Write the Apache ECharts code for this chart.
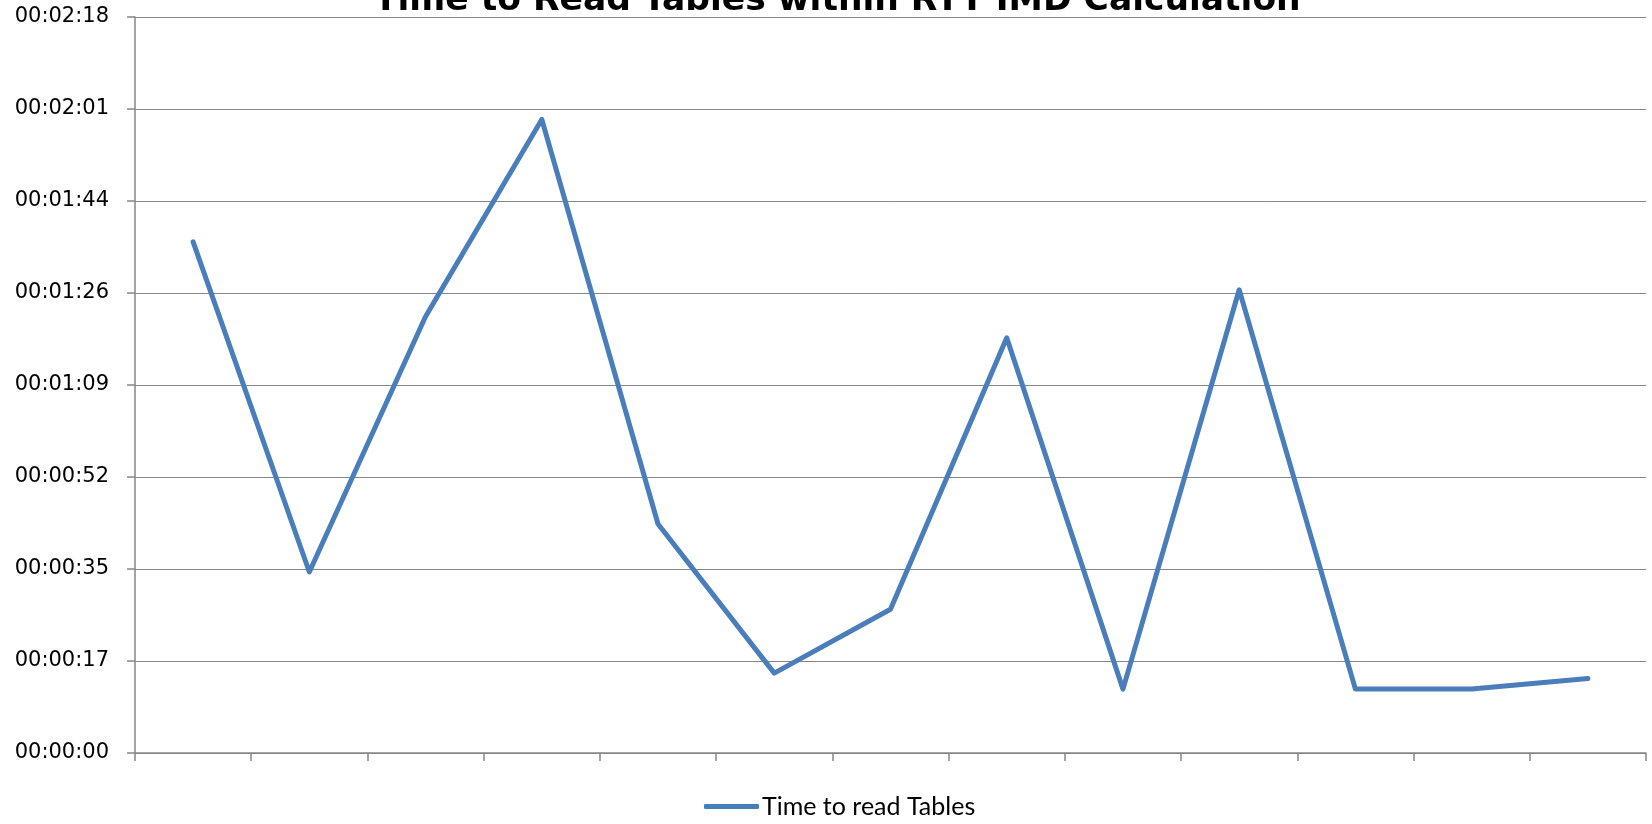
<!DOCTYPE html>
<html>
<head>
<meta charset="utf-8">
<title>Time to Read Tables within RTT IMD Calculation</title>
<script src="https://cdn.jsdelivr.net/npm/echarts@6/dist/echarts.min.js"></script>
<style>
  html, body { margin: 0; padding: 0; background: #ffffff; }
  #chart { width: 1652px; height: 824px; }
</style>
</head>
<body>
<div id="chart"></div>
<script>
// Run index (one per measurement), durations in seconds
const categories = ['1', '2', '3', '4', '5', '6', '7', '8', '9', '10', '11', '12', '13'];
const readSeconds = [96, 34, 82, 119, 43, 15, 27, 78, 12, 87, 12, 12, 14];

// Y axis ticks: 17.28 s steps (0.0002 day), shown as hh:mm:ss
const yInterval = 17.28;
const yMax = 138.24;
const yTickLabels = ['00:00:00', '00:00:17', '00:00:35', '00:00:52', '00:01:09',
                     '00:01:26', '00:01:44', '00:02:01', '00:02:18'];

const seriesName = 'Time to read Tables';
const titleText = 'Time to Read Tables within RTT IMD Calculation';

const lineColor = '#4a7ebb';
const axisGray = '#868686';
const textFont = 'Lato, "Open Sans", sans-serif';
const wideFont = '"DejaVu Sans", Verdana, sans-serif';

const chart = echarts.init(document.getElementById('chart'));
chart.setOption({
  animation: false,
  backgroundColor: '#ffffff',
  title: {
    text: titleText,
    left: 374,
    top: -16,
    padding: 0,
    textStyle: { fontFamily: wideFont, fontWeight: 'bold', fontSize: 34.5, color: '#000000' }
  },
  legend: {
    bottom: 0,
    left: 699,
    data: [seriesName],
    icon: 'roundRect',
    itemWidth: 55,
    itemHeight: 5,
    itemGap: 0,
    textStyle: { fontFamily: textFont, fontSize: 25, color: '#000000', padding: [0, 0, 0, -2] }
  },
  grid: { left: 135, right: 6, top: 17, bottom: 71, containLabel: false },
  xAxis: {
    type: 'category',
    data: categories,
    boundaryGap: true,
    axisLine: { lineStyle: { color: axisGray, width: 1.5 } },
    axisTick: { show: true, length: 8, lineStyle: { color: axisGray, width: 1.5 } },
    axisLabel: { show: false },
    splitLine: { show: false }
  },
  yAxis: {
    type: 'value',
    min: 0,
    max: yMax,
    interval: yInterval,
    axisLine: { show: true, lineStyle: { color: axisGray, width: 1.5 } },
    axisTick: { show: true, length: 8, lineStyle: { color: axisGray, width: 1.5 } },
    axisLabel: {
      margin: 26,
      fontFamily: wideFont,
      fontSize: 21,
      color: '#000000',
      formatter: function (v) { return yTickLabels[Math.round(v / yInterval)]; }
    },
    splitLine: { show: true, lineStyle: { color: axisGray, width: 1 } }
  },
  series: [{
    name: seriesName,
    type: 'line',
    data: readSeconds,
    symbol: 'none',
    lineStyle: { color: lineColor, width: 5, cap: 'round', join: 'round' },
    itemStyle: { color: lineColor }
  }]
});
</script>
</body>
</html>
